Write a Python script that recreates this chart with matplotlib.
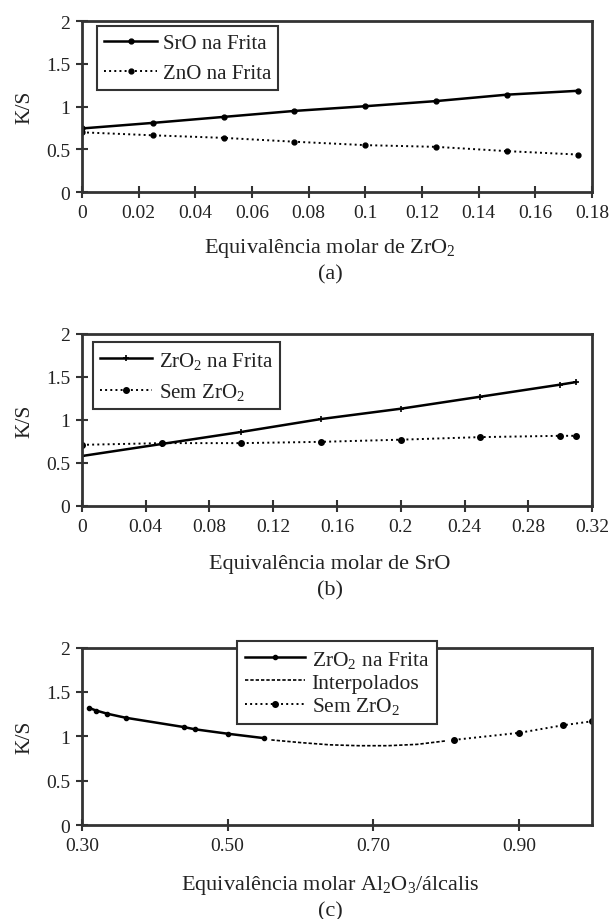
import matplotlib
matplotlib.use("Agg")
import matplotlib.pyplot as plt

plt.rcParams['font.family'] = ['Liberation Serif', 'DejaVu Serif']
plt.rcParams['mathtext.fontset'] = 'custom'
plt.rcParams['mathtext.rm'] = 'Liberation Serif'
plt.rcParams['mathtext.it'] = 'Liberation Serif'
plt.rcParams['mathtext.default'] = 'rm'

# Panel (a)
a_x = [0, 0.025, 0.05, 0.075, 0.1, 0.125, 0.15, 0.175]
a_sro = [0.745, 0.81, 0.88, 0.95, 1.005, 1.065, 1.14, 1.185]
a_zno = [0.70, 0.665, 0.635, 0.59, 0.55, 0.53, 0.48, 0.44]
a_xticks = [0, 0.02, 0.04, 0.06, 0.08, 0.1, 0.12, 0.14, 0.16, 0.18]
a_xticklabels = ['0', '0.02', '0.04', '0.06', '0.08', '0.1', '0.12', '0.14', '0.16', '0.18']

# Panel (b)
b_x = [0, 0.05, 0.1, 0.15, 0.2, 0.25, 0.3, 0.31]
b_zr = [0.58, 0.72, 0.86, 1.01, 1.13, 1.27, 1.41, 1.44]
b_sem = [0.71, 0.73, 0.73, 0.745, 0.77, 0.80, 0.815, 0.815]
b_xticks = [0, 0.04, 0.08, 0.12, 0.16, 0.2, 0.24, 0.28, 0.32]
b_xticklabels = ['0', '0.04', '0.08', '0.12', '0.16', '0.2', '0.24', '0.28', '0.32']

# Panel (c)
c_zr_x = [0.31, 0.32, 0.335, 0.36, 0.44, 0.455, 0.50, 0.55]
c_zr_y = [1.32, 1.29, 1.255, 1.21, 1.105, 1.08, 1.03, 0.98]
c_int_x = [0.56, 0.60, 0.64, 0.68, 0.72, 0.76, 0.80]
c_int_y = [0.96, 0.93, 0.905, 0.895, 0.895, 0.91, 0.95]
c_sem_x = [0.81, 0.90, 0.96, 1.0]
c_sem_y = [0.96, 1.04, 1.125, 1.17]
c_xticks = [0.30, 0.50, 0.70, 0.90]
c_xticklabels = ['0.30', '0.50', '0.70', '0.90']

yticks = [0, 0.5, 1, 1.5, 2]
yticklabels = ['0', '0.5', '1', '1.5', '2']

TXT = '#222222'
fig = plt.figure(figsize=(6.11, 9.2), dpi=100)

def style(ax, xlim, xticks, xtl):
    ax.set_xlim(*xlim)
    ax.set_ylim(0, 2)
    ax.set_xticks(xticks)
    ax.set_xticklabels(xtl)
    ax.set_yticks(yticks)
    ax.set_yticklabels(yticklabels)
    for s in ax.spines.values():
        s.set_linewidth(2.0)
        s.set_color('#333333')
    ax.tick_params(direction='inout', length=9, width=1.5, labelsize=14,
                   colors='#333333', labelcolor=TXT, pad=4)
    ax.set_ylabel('K/S', fontsize=15.5, color=TXT, labelpad=8)

def legend(ax, fs=15, ls=0.5, hl=2.5, **kw):
    lg = ax.legend(fontsize=fs, frameon=True, fancybox=False, edgecolor='#333333',
                   handlelength=hl, handletextpad=0.3, borderpad=0.35,
                   labelspacing=ls, borderaxespad=0, framealpha=1, **kw)
    lg.get_frame().set_linewidth(1.5)
    for t in lg.get_texts():
        t.set_color(TXT)
    return lg

L, W = 0.134, 0.835

# (a)
ax = fig.add_axes([L, 0.790, W, 0.186])
ax.plot(a_x, a_sro, '-', color='black', lw=1.8, marker='o', ms=3.5, label='SrO na Frita')
ax.plot(a_x, a_zno, ':', color='black', lw=1.4, marker='o', ms=3.5, label='ZnO na Frita')
style(ax, (0, 0.18), a_xticks, a_xticklabels)
legend(ax, loc='upper left', bbox_to_anchor=(0.03, 0.97))
fig.text(0.54, 0.730, 'Equivalência molar de ZrO$_2$', ha='center', va='center', fontsize=16, color=TXT)
fig.text(0.54, 0.701, '(a)', ha='center', va='center', fontsize=16, color=TXT)

# (b)
ax = fig.add_axes([L, 0.449, W, 0.187])
ax.plot(b_x, b_zr, '-', color='black', lw=1.8, marker='+', ms=5, mew=1.2, label='ZrO$_2$ na Frita')
ax.plot(b_x, b_sem, ':', color='black', lw=1.4, marker='o', ms=4, label='Sem ZrO$_2$')
style(ax, (0, 0.32), b_xticks, b_xticklabels)
legend(ax, loc='upper left', bbox_to_anchor=(0.022, 0.95))
fig.text(0.54, 0.386, 'Equivalência molar de SrO', ha='center', va='center', fontsize=16, color=TXT)
fig.text(0.54, 0.358, '(b)', ha='center', va='center', fontsize=16, color=TXT)

# (c)
ax = fig.add_axes([L, 0.102, W, 0.193])
ax.plot(c_zr_x, c_zr_y, '-', color='black', lw=1.8, marker='o', ms=3, label='ZrO$_2$ na Frita')
ax.plot(c_int_x, c_int_y, '--', color='black', lw=1.2, dashes=(2, 1.2), label='Interpolados')
ax.plot(c_sem_x, c_sem_y, ':', color='black', lw=1.4, marker='o', ms=4, label='Sem ZrO$_2$')
style(ax, (0.30, 1.0), c_xticks, c_xticklabels)
lg = legend(ax, fs=15.5, ls=0.12, hl=2.8, loc='upper center', bbox_to_anchor=(0.5, 1.035))
lg.set_zorder(5)
fig.text(0.54, 0.038, 'Equivalência molar Al$_2$O$_3$/álcalis', ha='center', va='center', fontsize=16, color=TXT)
fig.text(0.54, 0.009, '(c)', ha='center', va='center', fontsize=16, color=TXT)

fig.savefig('out.png', dpi=100, facecolor='white')
